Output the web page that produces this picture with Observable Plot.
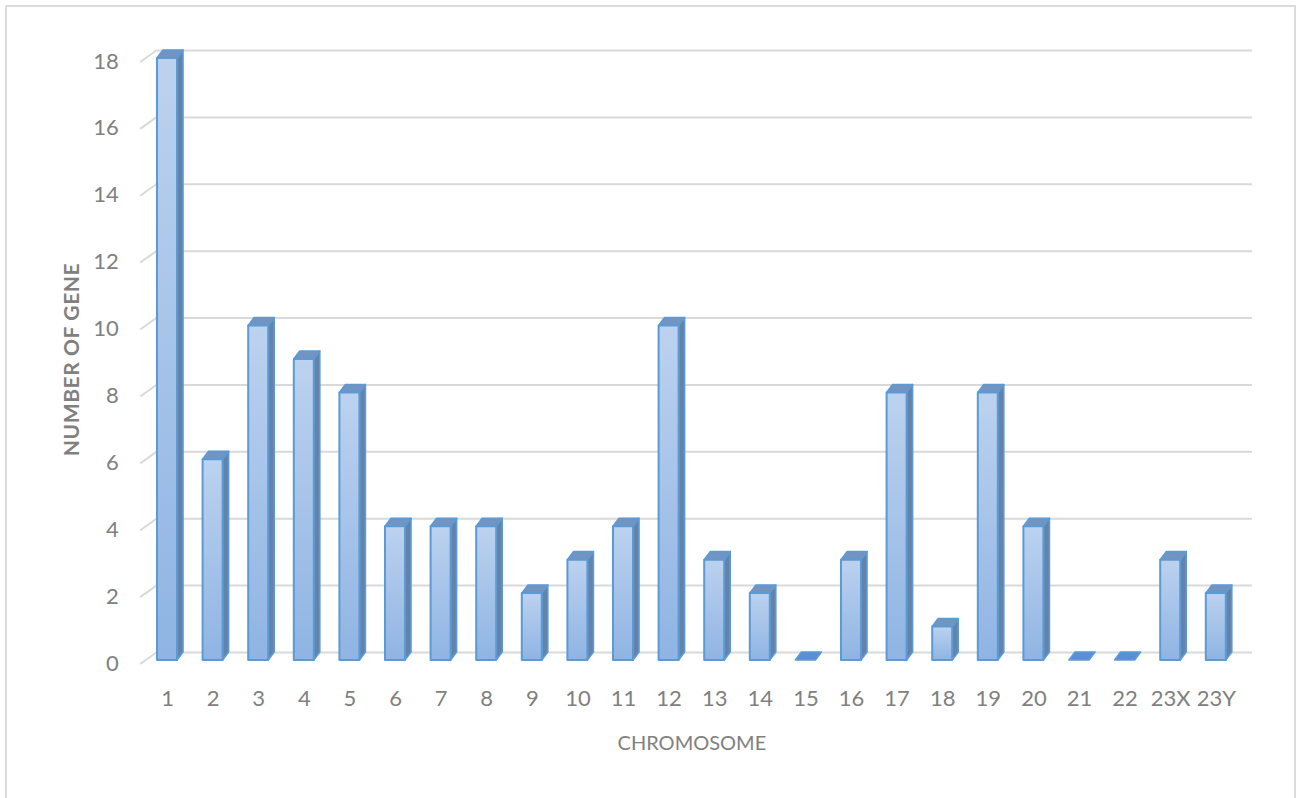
<!DOCTYPE html>
<html>
<head>
<meta charset="utf-8">
<script src="https://cdn.jsdelivr.net/npm/d3@7"></script>
<script src="https://cdn.jsdelivr.net/npm/@observablehq/plot@0.6"></script>
<style>
  body { margin: 0; background: #fff; }
  #chart { position: relative; width: 1299px; height: 798px; overflow: hidden; }
  #chart .border {
    position: absolute; left: 5px; top: 5px; width: 1291px; height: 830px;
    border: 2px solid #dcdcdc; box-sizing: border-box; pointer-events: none;
  }
  #chart svg { display: block; }
  .ylabel { letter-spacing: 0.6px; }
</style>
</head>
<body>
<div id="chart"><div class="border"></div></div>
<script>
// Genes per chromosome
const chromosomes = ["1","2","3","4","5","6","7","8","9","10","11","12","13","14","15","16","17","18","19","20","21","22","23X","23Y"];
const genes = [18, 6, 10, 9, 8, 4, 4, 4, 2, 3, 4, 10, 3, 2, 0, 3, 8, 1, 8, 4, 0, 0, 3, 2];
const yTicks = [0, 2, 4, 6, 8, 10, 12, 14, 16, 18];
const xTitle = "CHROMOSOME";
const yTitle = "NUMBER OF GENE";

const data = chromosomes.map((c, i) => ({chromosome: c, genes: genes[i]}));

// 3D look: depth offset of the back faces, in pixels
const DX = 6, DY = -8;
const INSET = 12.8;          // gap between bar face and band edge
const EDGE = "#5b9bd5";
const TEXT = "#808080";
const FONT = "Lato, 'Open Sans', sans-serif";

// Back-wall diagonals at the left edge
function wallEdges(index, scales, values, dimensions) {
  const {y} = scales;
  const {marginLeft} = dimensions;
  const g = d3.create("svg:g").attr("stroke", "#d9d9d9").attr("stroke-width", 2).attr("fill", "none");
  for (const t of yTicks) {
    g.append("line")
      .attr("x1", marginLeft - 4).attr("y1", y(t) + 4)
      .attr("x2", marginLeft + INSET).attr("y2", y(t) + DY);
  }
  return g.node();
}

// Side and top faces of each bar (the front face is a plain barY)
function prismFaces(index, scales, values, dimensions) {
  const {x, y} = scales;
  const step = x.bandwidth ? x.bandwidth() : 45.6;
  const w = step - 2 * INSET;
  const g = d3.create("svg:g");
  const grad = g.append("defs").append("linearGradient")
    .attr("id", "barFront").attr("x1", 0).attr("y1", 0).attr("x2", 0).attr("y2", 1);
  grad.append("stop").attr("offset", "0%").attr("stop-color", "#bcd2ef");
  grad.append("stop").attr("offset", "100%").attr("stop-color", "#8fb4e3");
  const pts = (a) => a.map((p) => p.join(",")).join(" ");
  data.forEach((d) => {
    const xl = x(d.chromosome) + INSET, xr = xl + w;
    const yt = y(d.genes), yb = y(0);
    if (d.genes > 0) {
      g.append("polygon")
        .attr("points", pts([[xr, yb], [xr + DX, yb + DY], [xr + DX, yt + DY], [xr, yt]]))
        .attr("fill", "#6482aa").attr("stroke", EDGE).attr("stroke-width", 1.6)
        .attr("stroke-linejoin", "round");
    }
    g.append("polygon")
      .attr("points", pts([[xl, yt], [xl + DX, yt + DY], [xr + DX, yt + DY], [xr, yt]]))
      .attr("fill", d.genes > 0 ? "#7393c0" : "#5a8ed6").attr("stroke", EDGE).attr("stroke-width", 1.6)
      .attr("stroke-linejoin", "round");
  });
  return g.node();
}

const chart = Plot.plot({
  width: 1299,
  height: 798,
  marginLeft: 144.2,
  marginRight: 60.4,
  marginTop: 58,
  marginBottom: 138,
  x: {domain: chromosomes, padding: 0, round: false, axis: null},
  y: {domain: [0, 18], axis: null},
  style: {fontFamily: FONT, background: "transparent"},
  marks: [
    Plot.ruleY(yTicks, {dy: DY, insetLeft: INSET, insetRight: -13.4, stroke: "#d9d9d9", strokeWidth: 2}),
    wallEdges,
    prismFaces,
    Plot.barY(data.filter((d) => d.genes > 0), {
      x: "chromosome", y: "genes", insetLeft: INSET, insetRight: INSET,
      fill: "url(#barFront)", stroke: EDGE, strokeWidth: 2, strokeLinejoin: "round"
    }),
    Plot.text(yTicks, {
      y: (d) => d, text: (d) => String(d), frameAnchor: "left", dx: -26, dy: 3,
      textAnchor: "end", lineAnchor: "middle", fontSize: 22, fill: TEXT, fontFamily: FONT
    }),
    Plot.text(chromosomes, {
      x: (d) => d, text: (d) => d, frameAnchor: "bottom", dy: 38,
      lineAnchor: "middle", fontSize: 22, fill: TEXT, fontFamily: FONT
    }),
    Plot.text([xTitle], {
      frameAnchor: "bottom", dy: 83, lineAnchor: "middle", fontSize: 20, fill: TEXT, fontFamily: FONT
    }),
    Plot.text([yTitle], {
      frameAnchor: "left", dx: -72, rotate: -90, textAnchor: "middle", lineAnchor: "middle",
      fontSize: 21, fontWeight: "bold", fill: TEXT, fontFamily: FONT, className: "ylabel"
    })
  ]
});

document.getElementById("chart").prepend(chart);
</script>
</body>
</html>
